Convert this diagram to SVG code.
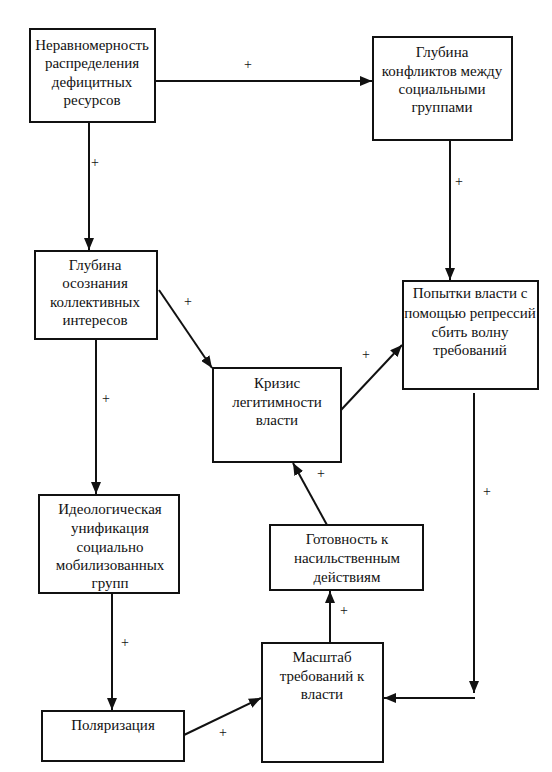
<svg xmlns="http://www.w3.org/2000/svg" width="552" height="772" viewBox="0 0 552 772">
<style>
.box{fill:#fff;stroke:#111;stroke-width:2}
.t{font-family:'Liberation Serif','DejaVu Serif','Times New Roman',serif;font-size:15px;fill:#111;text-anchor:middle}
.c{stroke:#111;stroke-width:2;fill:none}
.p{font-family:'Liberation Serif','DejaVu Serif','Times New Roman',serif;font-size:14px;fill:#111;text-anchor:middle}
</style>
<defs>
<marker id="ah" viewBox="0 0 12 10" refX="12" refY="5" markerWidth="12" markerHeight="10" markerUnits="userSpaceOnUse" orient="auto">
<path d="M0,0 L12,5 L0,10 Z" fill="#111"/>
</marker>
</defs>
<rect width="552" height="772" fill="#fff"/>
<g id="n1"><rect class="box" x="30" y="29" width="125" height="93"/>
<text class="t" x="92" y="50">Неравномерность</text><text class="t" x="92" y="68">распределения</text><text class="t" x="92" y="87">дефицитных</text><text class="t" x="92" y="105">ресурсов</text></g>
<g id="n2"><rect class="box" x="373" y="37" width="139" height="103"/>
<text class="t" x="442" y="57">Глубина</text><text class="t" x="442" y="76">конфликтов между</text><text class="t" x="442" y="94">социальными</text><text class="t" x="442" y="112">группами</text></g>
<g id="n3"><rect class="box" x="35" y="251" width="122" height="88"/>
<text class="t" x="95" y="270">Глубина</text><text class="t" x="95" y="288">осознания</text><text class="t" x="95" y="307">коллективных</text><text class="t" x="95" y="325">интересов</text></g>
<g id="n4"><rect class="box" x="213" y="368" width="128" height="94"/>
<text class="t" x="277" y="388">Кризис</text><text class="t" x="277" y="407">легитимности</text><text class="t" x="277" y="425">власти</text></g>
<g id="n5"><rect class="box" x="403" y="281" width="135" height="108"/>
<text class="t" x="470" y="298">Попытки власти с</text><text class="t" x="470" y="318">помощью репрессий</text><text class="t" x="470" y="337">сбить волну</text><text class="t" x="470" y="355">требований</text></g>
<g id="n6"><rect class="box" x="39" y="495" width="140" height="98"/>
<text class="t" x="110" y="514">Идеологическая</text><text class="t" x="110" y="533">унификация</text><text class="t" x="110" y="552">социально</text><text class="t" x="110" y="570">мобилизованных</text><text class="t" x="110" y="588">групп</text></g>
<g id="n7"><rect class="box" x="270" y="525" width="153" height="65"/>
<text class="t" x="347" y="544">Готовность к</text><text class="t" x="347" y="563">насильственным</text><text class="t" x="347" y="582">действиям</text></g>
<g id="n8"><rect class="box" x="262" y="643" width="121" height="119"/>
<text class="t" x="322" y="662">Масштаб</text><text class="t" x="322" y="681">требований к</text><text class="t" x="322" y="699">власти</text></g>
<g id="n9"><rect class="box" x="42" y="711" width="142" height="50"/>
<text class="t" x="113" y="730">Поляризация</text></g>
<g id="connectors">
<line class="c" x1="155" y1="81" x2="372" y2="81" marker-end="url(#ah)"/>
<line class="c" x1="89" y1="122" x2="89" y2="250" marker-end="url(#ah)"/>
<line class="c" x1="450" y1="141" x2="450" y2="280" marker-end="url(#ah)"/>
<line class="c" x1="159" y1="290" x2="212" y2="368" marker-end="url(#ah)"/>
<line class="c" x1="341" y1="410" x2="402" y2="345" marker-end="url(#ah)"/>
<line class="c" x1="96" y1="339" x2="96" y2="494" marker-end="url(#ah)"/>
<line class="c" x1="474" y1="393" x2="474" y2="693" marker-end="url(#ah)"/>
<line class="c" x1="475" y1="698" x2="384" y2="698" marker-end="url(#ah)"/>
<line class="c" x1="327" y1="525" x2="293" y2="463" marker-end="url(#ah)"/>
<line class="c" x1="330" y1="643" x2="330" y2="591" marker-end="url(#ah)"/>
<line class="c" x1="112" y1="593" x2="112" y2="710" marker-end="url(#ah)"/>
<line class="c" x1="184" y1="735" x2="261" y2="698" marker-end="url(#ah)"/>
<text class="p" x="248" y="69">+</text>
<text class="p" x="95" y="167">+</text>
<text class="p" x="459" y="186">+</text>
<text class="p" x="188" y="306">+</text>
<text class="p" x="366" y="359">+</text>
<text class="p" x="106" y="403">+</text>
<text class="p" x="487" y="496">+</text>
<text class="p" x="321" y="478">+</text>
<text class="p" x="344" y="615">+</text>
<text class="p" x="125" y="647">+</text>
<text class="p" x="223" y="737">+</text>
</g>
</svg>
